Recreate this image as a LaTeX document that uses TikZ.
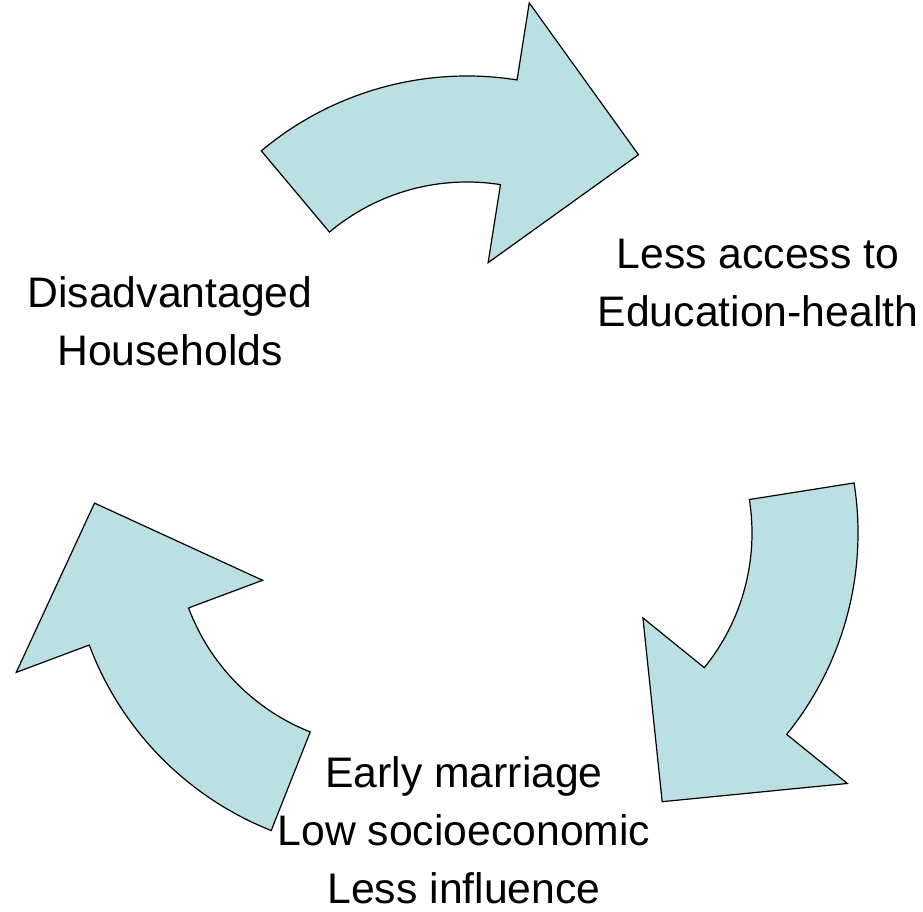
\documentclass[tikz,border=0pt]{standalone}
\usepackage{fontspec}
\setmainfont{Liberation Sans}
\usetikzlibrary{calc}
\definecolor{arrowfill}{RGB}{187,224,227}
\tikzset{
  arrowshape/.style={fill=arrowfill, draw=black, line width=1.2pt, line join=miter},
  labeltext/.style={align=center, inner sep=0pt, font=\fontsize{42.7}{58}\selectfont}
}
% #1 centre, #2 start angle, #3 end angle, #4 tip angle
\newcommand\cycarrow[4]{%
  \filldraw[arrowshape] ($(#1)+(#2:320pt)$)
    arc[start angle=#2, end angle=#3, radius=320pt]
    -- ($(#1)+(#3:398pt)$)
    -- ($(#1)+(#4:296pt)$)
    -- ($(#1)+(#3:135pt)$)
    -- ($(#1)+(#3:214pt)$)
    arc[start angle=#3, end angle=#2, radius=214pt]
    -- cycle;}
\begin{document}
\begin{tikzpicture}[x=1pt,y=1pt]
\useasboundingbox (0,0) rectangle (923,911);
\coordinate (ctop) at (467,515);
\coordinate (cright) at (538,378);
\coordinate (cleft) at (389,378);
\cycarrow{ctop}{130}{81}{54.6}
\cycarrow{cright}{9}{-39}{-65.2}
\cycarrow{cleft}{248.4}{200.5}{174.2}
\node[labeltext] (dis) at (170,590) {Disadvantaged\\Households};
\node[labeltext] (edu) at (758,627.5) {Less access to\\Education-health};
\node[labeltext] (early) at (464,81) {Early marriage\\Low socioeconomic\\Less influence};
\end{tikzpicture}
\end{document}
